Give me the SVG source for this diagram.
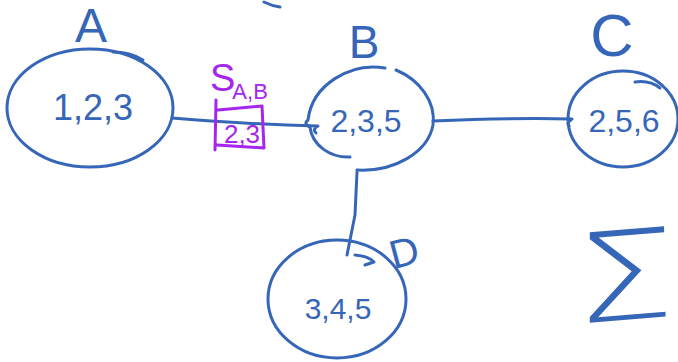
<svg xmlns="http://www.w3.org/2000/svg" width="678" height="362" viewBox="0 0 678 362">
<style>
.ink{fill:none;stroke:#3666b8;stroke-width:3;stroke-linecap:round;stroke-linejoin:round}
.pink{fill:none;stroke:#a526ee;stroke-width:3;stroke-linecap:round;stroke-linejoin:round}
.lbl{font-family:"Liberation Sans",Arial,sans-serif;fill:#3666b8;text-anchor:middle}
.plbl{font-family:"Liberation Sans",Arial,sans-serif;fill:#a526ee}
</style>
<rect width="678" height="362" fill="#ffffff"/>
<g id="connectors">
<path class="ink" d="M172,118 C220,122 270,125 318,126 Q312,129 316,133"/>
<path class="ink" d="M433,121 C480,119 530,118 572,119 Q566,123 569,126"/>
<path class="ink" d="M357,172 L355,215 L347,255"/>
</g>
<g id="node-A">
<ellipse class="ink" cx="90" cy="108" rx="83" ry="59"/>
<path class="ink" d="M113,52 Q130,52 143,60"/>
<text class="lbl" x="91" y="42" font-size="48">A</text>
<text class="lbl" x="93" y="120" font-size="36">1,2,3</text>
</g>
<g id="separator-AB">
<path class="pink" d="M216,100 L215,150 M218,110 L262,106 L264,148 L217,145"/>
<text class="plbl" x="210" y="91" font-size="38">S<tspan font-size="22" dx="-3" dy="8">A,B</tspan></text>
<text class="plbl" x="242" y="143" font-size="26" text-anchor="middle">2,3</text>
</g>
<g id="node-B">
<path class="ink" d="M385,68 C350,62 312,85 308,120 Q303,124 310,127 C312,145 330,158 350,157"/>
<path class="ink" d="M396,70 C420,80 436,102 433,125 C428,152 395,172 357,170"/>
<text class="lbl" x="364" y="58" font-size="46">B</text>
<text class="lbl" x="366" y="132" font-size="32">2,3,5</text>
</g>
<g id="node-C">
<ellipse class="ink" cx="623" cy="119" rx="55" ry="48"/>
<path class="ink" d="M635,82 Q650,80 660,88"/>
<text class="lbl" x="612" y="56" font-size="60">C</text>
<text class="lbl" x="624" y="132" font-size="32">2,5,6</text>
</g>
<g id="node-D">
<ellipse class="ink" cx="337" cy="299" rx="69" ry="59"/>
<path class="ink" d="M355,255 Q368,256 374,262 L365,265"/>
<text class="lbl" x="404" y="266" font-size="40" transform="rotate(-15 404 252)">D</text>
<text class="lbl" x="338" y="319" font-size="30">3,4,5</text>
</g>
<g id="sum">
<text class="lbl" x="0" y="0" font-size="124" font-weight="200" style="font-family:'DejaVu Sans',sans-serif" transform="translate(625,320) scale(1.3,1) skewY(-6)">Σ</text>
</g>
<path class="ink" d="M264,2 Q272,6 280,7"/>
</svg>
